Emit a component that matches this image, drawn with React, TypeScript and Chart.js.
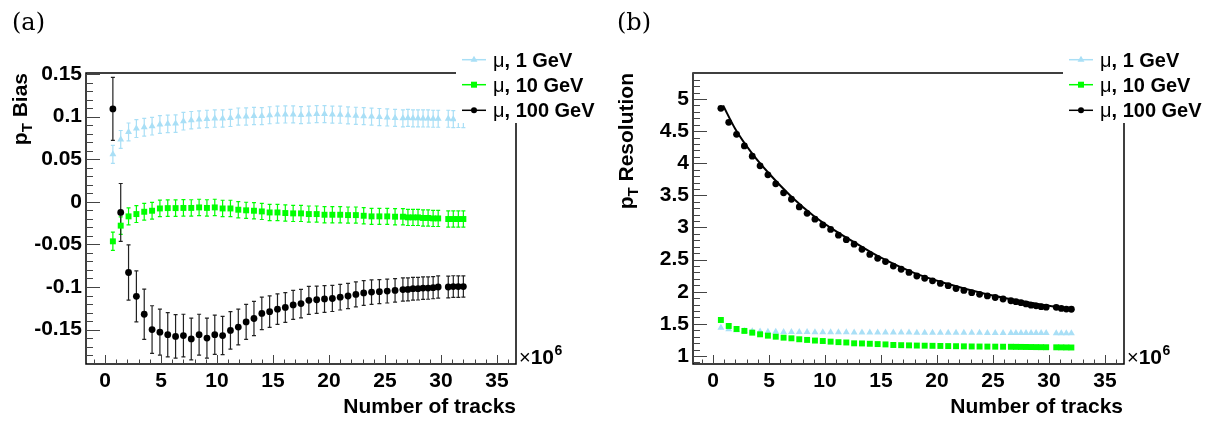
import React, { useEffect, useRef } from "react";
import { Chart, registerables } from "chart.js";
Chart.register(...registerables);

// ---------- data ----------
const trackCounts = [0.7, 1.4, 2.1, 2.8, 3.5, 4.2, 4.9, 5.6, 6.3, 7.0, 7.7, 8.4, 9.1, 9.8, 10.5, 11.2, 11.9, 12.6, 13.3, 14.0, 14.7, 15.4, 16.1, 16.8, 17.5, 18.2, 18.9, 19.6, 20.3, 21.0, 21.7, 22.4, 23.1, 23.8, 24.5, 25.2, 25.9, 26.6, 27.05, 27.5, 27.95, 28.4, 28.85, 29.3, 29.75, 30.65, 31.1, 31.55, 32.0];

const bias1GeV = [0.0557, 0.0732, 0.0820, 0.0860, 0.0876, 0.0888, 0.0907, 0.0915, 0.0918, 0.0946,
  0.0958, 0.0966, 0.0973, 0.0977, 0.0978, 0.0985, 0.1000, 0.1002, 0.1008, 0.1006,
  0.1016, 0.1024, 0.1025, 0.1026, 0.1018, 0.1024, 0.1030, 0.1030, 0.1024, 0.1022,
  0.1015, 0.1010, 0.1005, 0.1000, 0.0995, 0.0990, 0.0985, 0.0980, 0.0985, 0.0980,
  0.0980, 0.0978, 0.0978, 0.0975, 0.0975, 0.0975, 0.0970, 0.0972, 0.0970];
const bias1GeVErr = [0.0105, 0.0105, 0.0105, 0.0105, 0.0104, 0.0104, 0.0104, 0.0103, 0.0103, 0.0103,
  0.0102, 0.0102, 0.0102, 0.0102, 0.0101, 0.0101, 0.0101, 0.0101, 0.0101, 0.0100,
  0.0100, 0.0100, 0.0100, 0.0100, 0.0100, 0.0100, 0.0100, 0.0100, 0.0100, 0.0100,
  0.0100, 0.0100, 0.0100, 0.0100, 0.0100, 0.0100, 0.0100, 0.0100, 0.0100, 0.0100,
  0.0100, 0.0100, 0.0100, 0.0100, 0.0100, 0.0100, 0.0100, 0.0100, 0.0100];

const bias10GeV = [-0.0464, -0.0280, -0.0171, -0.0144, -0.0117, -0.0105, -0.0078, -0.0074, -0.0074, -0.0072,
  -0.0072, -0.0066, -0.0072, -0.0066, -0.0078, -0.0078, -0.0093, -0.0100, -0.0105, -0.0113,
  -0.0125, -0.0125, -0.0132, -0.0136, -0.0136, -0.0144, -0.0144, -0.0152, -0.0152, -0.0152,
  -0.0156, -0.0156, -0.0164, -0.0171, -0.0171, -0.0171, -0.0175, -0.0175, -0.0183, -0.0183,
  -0.0183, -0.0190, -0.0190, -0.0195, -0.0195, -0.0202, -0.0202, -0.0202, -0.0202];
const bias10GeVErr = [0.0107, 0.0103, 0.0100, 0.0099, 0.0098, 0.0098, 0.0097, 0.0097, 0.0097, 0.0097,
  0.0096, 0.0096, 0.0096, 0.0096, 0.0096, 0.0096, 0.0096, 0.0095, 0.0095, 0.0095,
  0.0095, 0.0095, 0.0095, 0.0095, 0.0095, 0.0095, 0.0095, 0.0095, 0.0095, 0.0095,
  0.0095, 0.0095, 0.0095, 0.0095, 0.0095, 0.0095, 0.0095, 0.0095, 0.0095, 0.0095,
  0.0095, 0.0095, 0.0095, 0.0095, 0.0095, 0.0095, 0.0095, 0.0095, 0.0095];

const bias100GeV = [0.1090, -0.0125, -0.0830, -0.1110, -0.1320, -0.1500, -0.1530, -0.1560, -0.1580, -0.1570,
  -0.1610, -0.1560, -0.1600, -0.1560, -0.1570, -0.1510, -0.1470, -0.1410, -0.1370, -0.1310,
  -0.1290, -0.1260, -0.1240, -0.1210, -0.1195, -0.1157, -0.1150, -0.1140, -0.1135, -0.1120,
  -0.1106, -0.1087, -0.1070, -0.1060, -0.1055, -0.1048, -0.1040, -0.1030, -0.1028, -0.1020,
  -0.1020, -0.1013, -0.1013, -0.1008, -0.1000, -0.1000, -0.0995, -0.0995, -0.0995];
const bias100GeVErr = [0.0370, 0.0340, 0.0325, 0.0300, 0.0295, 0.0280, 0.0270, 0.0260, 0.0255, 0.0250,
  0.0245, 0.0240, 0.0235, 0.0230, 0.0225, 0.0220, 0.0210, 0.0205, 0.0200, 0.0190,
  0.0185, 0.0180, 0.0175, 0.0170, 0.0168, 0.0165, 0.0160, 0.0157, 0.0153, 0.0150,
  0.0148, 0.0146, 0.0145, 0.0143, 0.0141, 0.0140, 0.0138, 0.0136, 0.0135, 0.0134,
  0.0133, 0.0132, 0.0131, 0.0130, 0.0130, 0.0128, 0.0127, 0.0126, 0.0125];

const res1GeV = [1.440, 1.415, 1.400, 1.390, 1.385, 1.380, 1.378, 1.376, 1.375, 1.374,
  1.373, 1.372, 1.371, 1.370, 1.370, 1.369, 1.368, 1.367, 1.367, 1.366,
  1.366, 1.365, 1.365, 1.364, 1.364, 1.363, 1.363, 1.362, 1.362, 1.361,
  1.361, 1.360, 1.360, 1.360, 1.359, 1.359, 1.358, 1.358, 1.358, 1.357,
  1.357, 1.357, 1.356, 1.356, 1.356, 1.355, 1.355, 1.355, 1.354];
const res10GeV = [1.560, 1.467, 1.420, 1.390, 1.363, 1.337, 1.316, 1.300, 1.285, 1.275,
  1.260, 1.250, 1.240, 1.233, 1.223, 1.215, 1.210, 1.197, 1.195, 1.190,
  1.185, 1.180, 1.171, 1.168, 1.165, 1.162, 1.160, 1.158, 1.156, 1.154,
  1.152, 1.150, 1.148, 1.147, 1.146, 1.145, 1.144, 1.143, 1.142, 1.141,
  1.140, 1.139, 1.138, 1.137, 1.136, 1.135, 1.134, 1.133, 1.132];
const res100GeV = [4.855, 4.637, 4.450, 4.270, 4.110, 3.960, 3.820, 3.680, 3.540, 3.440,
  3.320, 3.220, 3.130, 3.040, 2.970, 2.880, 2.810, 2.740, 2.660, 2.580,
  2.520, 2.470, 2.400, 2.350, 2.300, 2.245, 2.210, 2.170, 2.130, 2.094,
  2.050, 2.020, 1.985, 1.960, 1.934, 1.910, 1.887, 1.860, 1.845, 1.830,
  1.810, 1.790, 1.780, 1.767, 1.760, 1.757, 1.740, 1.730, 1.727];

const fitTracks = [0.9, 2, 3.5, 5, 7, 9, 11, 13, 15, 18, 21, 24, 27, 30, 32];
const fitRes100GeV = [4.90, 4.53, 4.15, 3.84, 3.48, 3.18, 2.94, 2.73, 2.53, 2.29, 2.12, 1.98, 1.87, 1.78, 1.74];

const legendLabels = ["1 GeV", "10 GeV", "100 GeV"];

// ---------- styles ----------
const C1 = "#a9dff6";
const C10 = "#00ff00";
const C100 = "#000000";
const SANS = "'Liberation Sans', Arial, Helvetica, sans-serif";
const H = 421;

type PanelCfg = {
  tag: string;
  width: number;
  area: { left: number; right: number; top: number; bottom: number };
  xRange: [number, number];
  yRange: [number, number];
  yMajor: number;
  yMinor: number;
  yTitleRest: string;
  yTitleX: number;
  xTitleRight: number;
  legendLeft: number;
  legendBottom: number;
  labelX: number;
  timesX: number;
  withErrors: boolean;
};

function makePoints(xs: number[], ys: number[]) {
  return xs.map((x, i) => ({ x, y: ys[i] }));
}

function fmtTick(v: any) {
  const n = Number(v);
  return String(parseFloat(n.toFixed(4)));
}

function drawMarker(ctx: CanvasRenderingContext2D, style: string, x: number, y: number, color: string) {
  ctx.fillStyle = color;
  ctx.beginPath();
  if (style === "triangle") {
    const r = 4;
    ctx.moveTo(x, y - r);
    ctx.lineTo(x + r * 0.866, y + r * 0.5);
    ctx.lineTo(x - r * 0.866, y + r * 0.5);
    ctx.closePath();
  } else if (style === "rect") {
    ctx.rect(x - 3, y - 3, 6, 6);
  } else {
    ctx.arc(x, y, 3, 0, Math.PI * 2);
  }
  ctx.fill();
}

function makePlugin(cfg: PanelCfg) {
  return {
    id: "rootPanel" + cfg.tag,
    beforeDatasetsDraw(chart: any) {
      if (!cfg.withErrors) return;
      const ctx: CanvasRenderingContext2D = chart.ctx;
      const ys = chart.scales.y;
      const a = chart.chartArea;
      ctx.save();
      ctx.beginPath();
      ctx.rect(a.left, a.top, a.right - a.left, a.bottom - a.top);
      ctx.clip();
      const order = [2, 1, 0];
      for (const di of order) {
        const ds = chart.data.datasets[di];
        if (!ds || !ds.errors) continue;
        const meta = chart.getDatasetMeta(di);
        ctx.strokeStyle = ds.barColor;
        ctx.lineWidth = 1.2;
        meta.data.forEach((el: any, i: number) => {
          const v = ds.data[i].y;
          const e = ds.errors[i];
          const y1 = ys.getPixelForValue(v + e);
          const y2 = ys.getPixelForValue(v - e);
          const x = el.x;
          ctx.beginPath();
          ctx.moveTo(x, y1);
          ctx.lineTo(x, y2);
          ctx.moveTo(x - 2, y1);
          ctx.lineTo(x + 2, y1);
          ctx.moveTo(x - 2, y2);
          ctx.lineTo(x + 2, y2);
          ctx.stroke();
        });
      }
      ctx.restore();
    },
    afterDraw(chart: any) {
      const ctx: CanvasRenderingContext2D = chart.ctx;
      const a = chart.chartArea;
      const xs = chart.scales.x;
      const ys = chart.scales.y;
      ctx.save();
      // legend box (covers frame corner)
      ctx.fillStyle = "#ffffff";
      ctx.fillRect(cfg.legendLeft, 0, cfg.width - cfg.legendLeft, cfg.legendBottom);

      // frame
      ctx.strokeStyle = "#000";
      ctx.lineWidth = 1.5;
      ctx.beginPath();
      ctx.moveTo(cfg.legendLeft, a.top);
      ctx.lineTo(a.left, a.top);
      ctx.lineTo(a.left, a.bottom);
      ctx.lineTo(a.right, a.bottom);
      ctx.lineTo(a.right, cfg.legendBottom);
      ctx.stroke();

      // y ticks (inside)
      ctx.strokeStyle = "#444";
      ctx.lineWidth = 1;
      const ratio = Math.round(cfg.yMajor / cfg.yMinor);
      const i0 = Math.ceil(cfg.yRange[0] / cfg.yMinor - 1e-9);
      const i1 = Math.floor(cfg.yRange[1] / cfg.yMinor + 1e-9);
      for (let i = i0; i <= i1; i++) {
        const v = i * cfg.yMinor;
        const major = i % ratio === 0;
        const py = Math.round(ys.getPixelForValue(v)) + 0.5;
        ctx.beginPath();
        ctx.moveTo(a.left, py);
        ctx.lineTo(a.left + (major ? 14 : 7), py);
        ctx.stroke();
      }
      // x ticks (inside)
      const j0 = Math.ceil(cfg.xRange[0]);
      const j1 = Math.floor(cfg.xRange[1]);
      for (let j = j0; j <= j1; j++) {
        const major = j % 5 === 0;
        const px = Math.round(xs.getPixelForValue(j)) + 0.5;
        ctx.beginPath();
        ctx.moveTo(px, a.bottom);
        ctx.lineTo(px, a.bottom - (major ? 9 : 4.5));
        ctx.stroke();
      }

      ctx.fillStyle = "#000";
      // panel label
      ctx.font = "24px 'DejaVu Serif', serif";
      ctx.textAlign = "left";
      ctx.textBaseline = "alphabetic";
      ctx.fillText("(" + cfg.tag + ")", cfg.labelX, 30);

      // x title
      ctx.font = "bold 21px " + SANS;
      ctx.textAlign = "right";
      ctx.fillText("Number of tracks", cfg.xTitleRight, 413);

      // x10^6
      ctx.textAlign = "left";
      ctx.font = "20px " + SANS;
      ctx.fillText("\u00d7", cfg.timesX, 364);
      let tx = cfg.timesX + ctx.measureText("\u00d7").width;
      ctx.font = "bold 21px " + SANS;
      ctx.fillText("10", tx, 364);
      tx += ctx.measureText("10").width;
      ctx.font = "bold 14px " + SANS;
      ctx.fillText("6", tx + 0.5, 355);

      // y title
      ctx.save();
      ctx.translate(cfg.yTitleX, a.top);
      ctx.rotate(-Math.PI / 2);
      const big = "bold 21px " + SANS;
      const small = "bold 15px " + SANS;
      ctx.font = big;
      const wp = ctx.measureText("p").width;
      const wr = ctx.measureText(cfg.yTitleRest).width;
      ctx.font = small;
      const wt = ctx.measureText("T").width;
      let lx = -(wp + wt + wr);
      ctx.textAlign = "left";
      ctx.font = big;
      ctx.fillText("p", lx, 0);
      lx += wp;
      ctx.font = small;
      ctx.fillText("T", lx, 5);
      lx += wt;
      ctx.font = big;
      ctx.fillText(cfg.yTitleRest, lx, 0);
      ctx.restore();

      // legend
      const baselines = [66.7, 91.7, 117.3];
      const colors = [C1, C10, C100];
      const styles = ["triangle", "rect", "circle"];
      baselines.forEach((bl, r) => {
        const yc = bl - 7;
        const L = cfg.legendLeft;
        ctx.strokeStyle = colors[r];
        ctx.lineWidth = 1.5;
        ctx.beginPath();
        ctx.moveTo(L + 6, yc);
        ctx.lineTo(L + 30, yc);
        ctx.stroke();
        drawMarker(ctx, styles[r], L + 18, yc, colors[r]);
        ctx.fillStyle = "#000";
        ctx.textAlign = "left";
        ctx.font = "20px " + SANS;
        ctx.fillText("\u03bc", L + 37, bl);
        const wm = ctx.measureText("\u03bc").width;
        ctx.font = "bold 20px " + SANS;
        ctx.fillText(", " + legendLabels[r], L + 37 + wm, bl);
      });
      ctx.restore();
    },
  };
}

function buildConfig(cfg: PanelCfg, datasets: any[]) {
  const a = cfg.area;
  return {
    type: "scatter",
    data: { datasets },
    options: {
      responsive: false,
      animation: false,
      devicePixelRatio: 1,
      layout: { padding: { left: 0, top: a.top, right: cfg.width - a.right, bottom: 0 } },
      plugins: { legend: { display: false }, tooltip: { enabled: false }, title: { display: false } },
      events: [],
      scales: {
        x: {
          type: "linear",
          min: cfg.xRange[0],
          max: cfg.xRange[1],
          afterFit: (s: any) => { s.height = H - a.bottom; },
          grid: { display: false, drawTicks: false },
          border: { display: false },
          ticks: {
            stepSize: 5,
            includeBounds: false,
            autoSkip: false,
            maxRotation: 0,
            padding: 5,
            color: "#000",
            callback: fmtTick,
            font: { family: SANS, size: 21, weight: "bold" },
          },
        },
        y: {
          type: "linear",
          min: cfg.yRange[0],
          max: cfg.yRange[1],
          afterFit: (s: any) => { s.width = a.left; },
          grid: { display: false, drawTicks: false },
          border: { display: false },
          ticks: {
            stepSize: cfg.yMajor,
            includeBounds: false,
            autoSkip: false,
            padding: 4,
            color: "#000",
            callback: fmtTick,
            font: { family: SANS, size: 21, weight: "bold" },
          },
        },
      },
    },
    plugins: [makePlugin(cfg)],
  };
}

const cfgA: PanelCfg = {
  tag: "a",
  width: 604,
  area: { left: 86, right: 516, top: 73, bottom: 364 },
  xRange: [-1.7, 36.7],
  yRange: [-0.1904, 0.1512],
  yMajor: 0.05,
  yMinor: 0.01,
  yTitleRest: " Bias",
  yTitleX: 27,
  xTitleRight: 516,
  legendLeft: 456,
  legendBottom: 123,
  labelX: 12,
  timesX: 519,
  withErrors: true,
};

const cfgB: PanelCfg = {
  tag: "b",
  width: 605,
  area: { left: 89, right: 520, top: 73, bottom: 364 },
  xRange: [-1.79, 36.7],
  yRange: [0.875, 5.405],
  yMajor: 0.5,
  yMinor: 0.1,
  yTitleRest: " Resolution",
  yTitleX: 29,
  xTitleRight: 519,
  legendLeft: 459,
  legendBottom: 123,
  labelX: 13,
  timesX: 523,
  withErrors: false,
};

function datasetsA() {
  return [
    {
      label: "100 GeV", data: makePoints(trackCounts, bias100GeV), errors: bias100GeVErr, barColor: "#222",
      pointStyle: "circle", pointRadius: 3.4, backgroundColor: C100, borderWidth: 0, showLine: false, order: 0,
    },
    {
      label: "10 GeV", data: makePoints(trackCounts, bias10GeV), errors: bias10GeVErr, barColor: C10,
      pointStyle: "rect", pointRadius: 4.2, backgroundColor: C10, borderWidth: 0, showLine: false, order: 1,
    },
    {
      label: "1 GeV", data: makePoints(trackCounts, bias1GeV), errors: bias1GeVErr, barColor: C1,
      pointStyle: "triangle", pointRadius: 4, backgroundColor: C1, borderWidth: 0, showLine: false, order: 2,
    },
  ];
}

function datasetsB() {
  return [
    {
      label: "fit", data: makePoints(fitTracks, fitRes100GeV), showLine: true, pointRadius: 0,
      borderColor: "#000", borderWidth: 2, cubicInterpolationMode: "monotone", order: -1,
    },
    {
      label: "100 GeV", data: makePoints(trackCounts, res100GeV),
      pointStyle: "circle", pointRadius: 3.4, backgroundColor: C100, borderWidth: 0, showLine: false, order: 0,
    },
    {
      label: "10 GeV", data: makePoints(trackCounts, res10GeV),
      pointStyle: "rect", pointRadius: 4.2, backgroundColor: C10, borderWidth: 0, showLine: false, order: 1,
    },
    {
      label: "1 GeV", data: makePoints(trackCounts, res1GeV),
      pointStyle: "triangle", pointRadius: 4, backgroundColor: C1, borderWidth: 0, showLine: false, order: 2,
    },
  ];
}

export default function App() {
  const refA = useRef<HTMLCanvasElement | null>(null);
  const refB = useRef<HTMLCanvasElement | null>(null);
  useEffect(() => {
    const chA = new Chart(refA.current as HTMLCanvasElement, buildConfig(cfgA, datasetsA()) as any);
    const chB = new Chart(refB.current as HTMLCanvasElement, buildConfig(cfgB, datasetsB()) as any);
    return () => {
      chA.destroy();
      chB.destroy();
    };
  }, []);
  return (
    <div style={{ position: "fixed", left: 0, top: 0, width: 1209, height: H, background: "#fff" }}>
      <canvas ref={refA} width={604} height={H} style={{ position: "absolute", left: 0, top: 0, width: 604, height: H }} />
      <canvas ref={refB} width={605} height={H} style={{ position: "absolute", left: 604, top: 0, width: 605, height: H }} />
    </div>
  );
}
